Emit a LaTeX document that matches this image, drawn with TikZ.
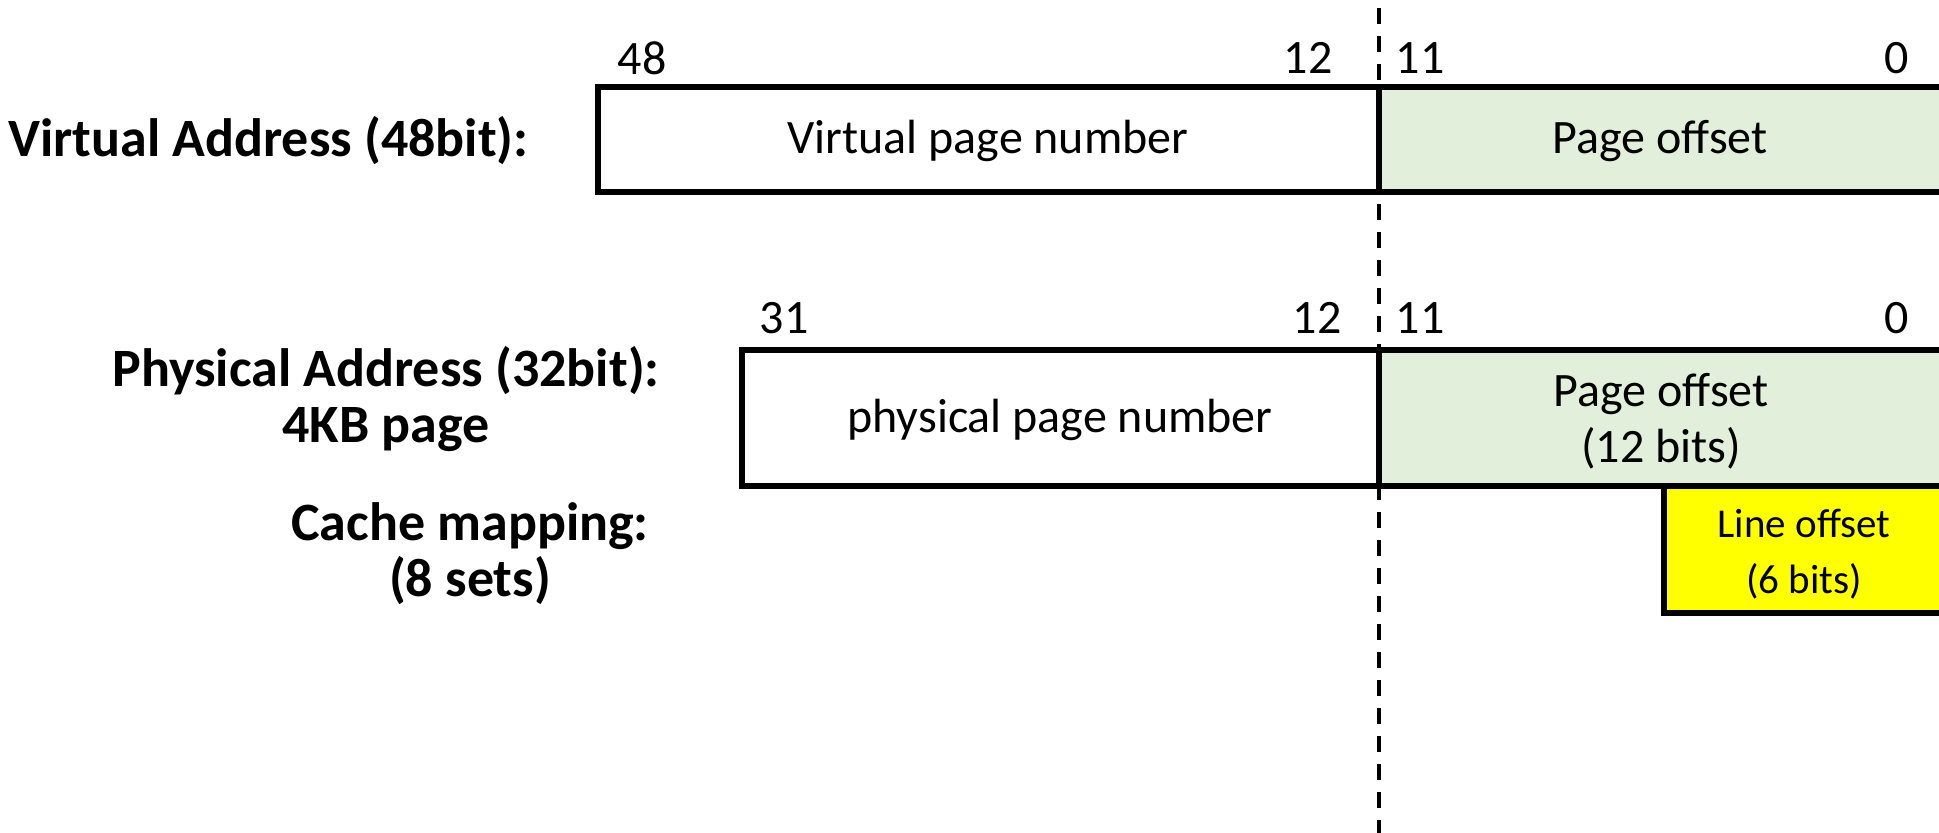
\documentclass[tikz,border=0pt]{standalone}
\usepackage{fontspec}
\setmainfont{Carlito}
\definecolor{pgreen}{HTML}{E2EFDA}
\definecolor{lyellow}{HTML}{FFFF00}
\begin{document}
\begin{tikzpicture}[x=0.5pt,y=-0.5pt,
  boxline/.style={line width=2.6pt},
  num/.style={inner sep=0pt,font=\fontsize{24}{28}\selectfont},
  boxtext/.style={inner sep=0pt,align=center,font=\fontsize{24}{28}\selectfont},
  smalltext/.style={inner sep=0pt,align=center,font=\fontsize{20.5}{28}\selectfont},
  lbl/.style={inner sep=0pt,align=center,font=\fontsize{27}{28}\bfseries\selectfont},
  divider/.style={line width=2pt,dash pattern=on 8pt off 6pt,dash phase=10pt}]
\useasboundingbox (0,0) rectangle (1939,833);
\clip (0,0) rectangle (1939,833);
% fills
\fill[pgreen] (1379,87) rectangle (1960,192);
\fill[pgreen] (1379,350) rectangle (1960,486);
\fill[lyellow] (1664,486) rectangle (1960,613);
% dashed divider
\coordinate (dtop) at (1379,0);
\coordinate (dbot) at (1379,833);
\draw[divider] (dtop) -- (dbot);
% boxes
\draw[boxline] (598,87) rectangle (1960,192);
\draw[boxline] (1379,87) -- (1379,192);
\draw[boxline] (742,350) rectangle (1960,486);
\draw[boxline] (1379,350) -- (1379,486);
\draw[boxline] (1664,486) rectangle (1960,613);
% texts row 1
\node[num] (n48) at (642,58) {48};
\node[num] (n12a) at (1308,58) {12};
\node[num] (n11a) at (1420,58) {11};
\node[num] (n0a) at (1897,58) {0};
\node[boxtext] (vpn) at (988,141) {Virtual page number};
\node[boxtext] (po1) at (1660,141) {Page offset};
\node[lbl,anchor=east] (va) at (529,141) {Virtual Address (48bit):};
% texts row 2
\node[num] (n31) at (784,318) {31};
\node[num] (n12b) at (1317,318) {12};
\node[num] (n11b) at (1420,318) {11};
\node[num] (n0b) at (1897,318) {0};
\node[boxtext] (ppn) at (1060,420) {physical page number};
\node[boxtext] (po2) at (1661,421) {Page offset\\(12 bits)};
\node[smalltext] (lo) at (1804,554) {Line offset\\(6 bits)};
\node[lbl] (pa) at (386,399) {Physical Address (32bit):\\4KB page};
\node[lbl] (cm) at (470,554) {Cache mapping:\\(8 sets)};
\end{tikzpicture}
\end{document}
